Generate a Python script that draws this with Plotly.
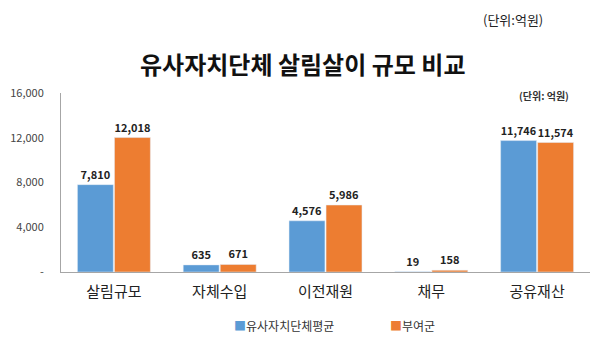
import plotly.graph_objects as go

categories = ["살림규모", "자체수입", "이전재원", "채무", "공유재산"]
series_names = ["유사자치단체평균", "부여군"]
avg_values = [7810, 635, 4576, 19, 11746]
buyeo_values = [12018, 671, 5986, 158, 11574]
tick_vals = [0, 4000, 8000, 12000, 16000]
tick_text = ["-", "4,000", "8,000", "12,000", "16,000"]

FONT = "Noto Sans CJK KR"
colors = ["#5B9BD5", "#ED7D31"]

W, H = 600, 347
l, r, t, b = 61, 10, 93, 75
pw, ph = W - l - r, H - t - b

def px(x):
    return (x - l) / pw

def py(y):
    return (H - b - y) / ph

fig = go.Figure()
for name, vals, c in zip(series_names, [avg_values, buyeo_values], colors):
    fig.add_trace(go.Bar(
        x=categories, y=vals, name=name, marker_color=c,
        text=[f"{v:,}" for v in vals], textposition="outside",
        textfont=dict(family=FONT, size=11, color="#222"),
        texttemplate="<b>%{text}</b>", cliponaxis=False, showlegend=False,
    ))

annotations = [
    dict(text="<b>유사자치단체 살림살이 규모 비교</b>", x=px(302), y=py(63),
         font=dict(family=FONT, size=24, color="#111")),
    dict(text="(단위:억원)", x=px(513), y=py(19), font=dict(family=FONT, size=13, color="#222")),
    dict(text="<b>(단위: 억원)</b>", x=px(544), y=py(95), font=dict(family=FONT, size=10, color="#333")),
    dict(text=f"<span style='color:{colors[0]}'>■</span>{series_names[0]}", x=px(284), y=py(325),
         font=dict(family=FONT, size=12, color="#333")),
    dict(text=f"<span style='color:{colors[1]}'>■</span>{series_names[1]}", x=px(412), y=py(325),
         font=dict(family=FONT, size=12, color="#333")),
]
for a in annotations:
    a.update(xref="paper", yref="paper", xanchor="center", yanchor="middle", showarrow=False)

fig.update_layout(
    width=W, height=H,
    margin=dict(l=l, r=r, t=t, b=b),
    plot_bgcolor="white", paper_bgcolor="white",
    barmode="group", bargap=0.30, bargroupgap=0.03,
    font=dict(family=FONT),
    showlegend=False,
    yaxis=dict(range=[0, 16000], tickvals=tick_vals, ticktext=tick_text,
               showgrid=False, showline=True, linecolor="#A6A6A6", linewidth=1,
               ticks="", ticklabelstandoff=14,
               tickfont=dict(family=FONT, size=11, color="#444"), zeroline=False),
    xaxis=dict(showline=True, linecolor="#A6A6A6", linewidth=1, ticks="", ticklabelstandoff=6,
               tickfont=dict(family=FONT, size=15, color="#222")),
    annotations=annotations,
)

fig.write_html("out.html")
